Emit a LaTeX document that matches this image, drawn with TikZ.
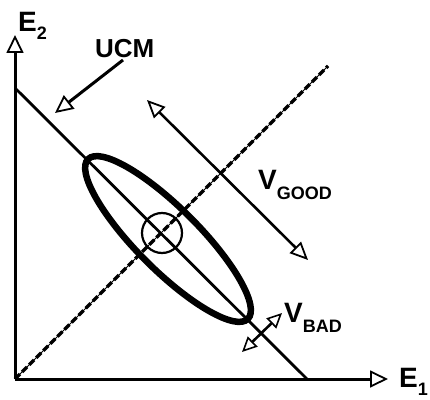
\documentclass[tikz,border=0pt]{standalone}
\usepackage{fontspec}
\setmainfont{Liberation Sans}
\usetikzlibrary{arrows.meta}
\newcommand\sublbl[3]{{\fontsize{28}{28}\selectfont\bfseries #1}\raisebox{-#3}{\fontsize{18}{18}\selectfont\bfseries #2}}
\begin{document}
\begin{tikzpicture}[x=1pt,y=1pt,
  opentip/.style={-{Triangle[length=18pt,width=17pt,fill=white,line width=1.8pt]}},
  bothtip/.style={{Triangle[length=18pt,width=16pt,fill=white,line width=1.8pt]}-{Triangle[length=18pt,width=16pt,fill=white,line width=1.8pt]}},
  smalltip/.style={{Triangle[length=15pt,width=14pt,fill=white,line width=1.6pt]}-{Triangle[length=15pt,width=14pt,fill=white,line width=1.6pt]}},
  axisline/.style={line width=3pt, opentip},
  ucmline/.style={line width=2.8pt},
  diagthin/.style={line width=0.9pt},
  diag/.style={line width=3.4pt, dash pattern=on 7pt off 3pt},
  lbl/.style={anchor=base west, inner sep=0pt, font=\bfseries}]
\useasboundingbox (0,0) rectangle (430,399);
\clip (0,0) rectangle (430,399);
% coordinates
\coordinate (O) at (15,20);
\coordinate (Ytip) at (15,364);
\coordinate (Xtip) at (388,20);
\coordinate (U1) at (15,311);
\coordinate (U2) at (307,20);
\coordinate (D2) at (328,333);
\coordinate (C) at (162,166);
\coordinate (EC) at (168,160);
\coordinate (UCMtail) at (123,339);
\coordinate (UCMtip) at (55,286);
\coordinate (G1) at (147,299);
\coordinate (G2) at (308,139);
\coordinate (B1) at (242,47);
\coordinate (B2) at (282,86);
% diagonal and UCM line
\draw[diagthin] (O) -- (D2);
\draw[diag] (O) -- (D2);
\draw[ucmline] (U1) -- (U2);
% axes
\draw[axisline] (O) -- (Ytip);
\draw[axisline] (O) -- (Xtip);
% ellipse and circle
\draw[line width=6.5pt] (EC) ellipse [x radius=113, y radius=31, rotate=-45];
\draw[line width=2.2pt] (C) circle [radius=20];
% arrows
\draw[line width=3pt, opentip] (UCMtail) -- (UCMtip);
\draw[line width=2.6pt, bothtip] (G1) -- (G2);
\draw[line width=2.6pt, smalltip] (B1) -- (B2);
% labels
\node[lbl] (e2) at (18,367) {\sublbl{E}{2}{8pt}};
\node[lbl] (ucm) at (95,341) {\fontsize{26}{26}\selectfont UCM};
\node[lbl] (vgood) at (258,209) {\sublbl{V}{GOOD}{10pt}};
\node[lbl] (vbad) at (284,77) {\sublbl{V}{BAD}{10pt}};
\node[lbl] (e1) at (399,12) {\sublbl{E}{1}{8pt}};
\end{tikzpicture}
\end{document}
